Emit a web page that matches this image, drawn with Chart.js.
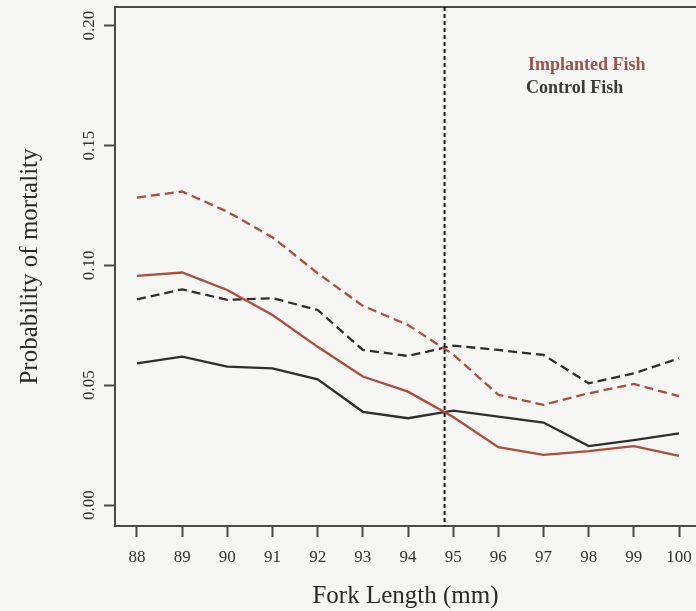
<!DOCTYPE html>
<html>
<head>
<meta charset="utf-8">
<title>Probability of mortality by fork length</title>
<script src="https://cdn.jsdelivr.net/npm/chart.js@4.4.1/dist/chart.umd.min.js"></script>
<style>
  html, body { margin: 0; padding: 0; background: #f6f6f4; }
  canvas { display: block; }
</style>
</head>
<body>
<canvas id="mortalityChart" width="696" height="611"></canvas>
<script>
// values
var forkLength = [88, 89, 90, 91, 92, 93, 94, 95, 96, 97, 98, 99, 100];
var implantedMean  = [0.0956, 0.0970, 0.0897, 0.0793, 0.0660, 0.0536, 0.0473, 0.0367, 0.0241, 0.0209, 0.0225, 0.0246, 0.0205];
var implantedUpper = [0.1283, 0.1308, 0.1224, 0.1117, 0.0967, 0.0831, 0.0751, 0.0628, 0.0460, 0.0418, 0.0466, 0.0505, 0.0454];
var controlMean    = [0.0591, 0.0619, 0.0577, 0.0570, 0.0524, 0.0389, 0.0362, 0.0394, 0.0369, 0.0344, 0.0246, 0.0271, 0.0299];
var controlUpper   = [0.0858, 0.0900, 0.0856, 0.0863, 0.0814, 0.0647, 0.0622, 0.0665, 0.0647, 0.0626, 0.0508, 0.0549, 0.0612];
var xTicks = [88, 89, 90, 91, 92, 93, 94, 95, 96, 97, 98, 99, 100];
var yTicks = [0, 0.05, 0.10, 0.15, 0.20];
var cutoffLength = 94.81;
var legendLabels = ['Implanted Fish', 'Control Fish'];

var RED = '#b04c3a';
var DARK = '#2e2e2e';
var AXIS = '#4a4a4a';
var SERIF = '"Liberation Serif", "Times New Roman", serif';

function points(values) {
  return forkLength.map(function (x, i) { return { x: x, y: values[i] }; });
}

function series(label, values, color, dashed) {
  return {
    label: label,
    data: points(values),
    borderColor: color,
    borderWidth: 2.3,
    borderDash: dashed ? [9, 5] : [],
    pointRadius: 0,
    tension: 0,
    fill: false
  };
}

// background, top frame line, cutoff line and the text legend
var framePlugin = {
  id: 'frame',
  beforeDraw: function (chart) {
    var ctx = chart.ctx;
    ctx.save();
    ctx.fillStyle = '#f6f6f4';
    ctx.fillRect(0, 0, chart.width, chart.height);
    ctx.restore();
  },
  afterDatasetsDraw: function (chart) {
    var ctx = chart.ctx, a = chart.chartArea;
    var cx = chart.scales.x.getPixelForValue(cutoffLength);
    ctx.save();
    ctx.strokeStyle = AXIS;
    ctx.lineWidth = 2;
    ctx.beginPath();
    ctx.moveTo(a.left, a.top);
    ctx.lineTo(a.right, a.top);
    ctx.stroke();
    ctx.strokeStyle = '#151515';
    ctx.setLineDash([4, 3]);
    ctx.beginPath();
    ctx.moveTo(cx, a.top);
    ctx.lineTo(cx, a.bottom);
    ctx.stroke();
    ctx.restore();
  },
  afterDraw: function (chart) {
    var ctx = chart.ctx, a = chart.chartArea;
    ctx.save();
    ctx.font = 'bold 18px ' + SERIF;
    ctx.textAlign = 'left';
    ctx.textBaseline = 'middle';
    ctx.fillStyle = '#9c5244';
    ctx.fillText(legendLabels[0], a.left + 413, a.top + 58);
    ctx.fillStyle = '#3a3a3a';
    ctx.fillText(legendLabels[1], a.left + 411, a.top + 81);
    ctx.restore();
  }
};

new Chart(document.getElementById('mortalityChart'), {
  type: 'line',
  data: {
    datasets: [
      series('Implanted Fish upper', implantedUpper, RED, true),
      series('Implanted Fish', implantedMean, RED, false),
      series('Control Fish upper', controlUpper, DARK, true),
      series('Control Fish', controlMean, DARK, false)
    ]
  },
  options: {
    responsive: false,
    animation: false,
    devicePixelRatio: 1,
    layout: { padding: { top: 7, right: 0, left: 0, bottom: 0 } },
    plugins: { legend: { display: false }, tooltip: { enabled: false } },
    scales: {
      x: {
        type: 'linear',
        min: 87.513,
        max: 100.376,
        afterBuildTicks: function (s) { s.ticks = xTicks.map(function (v) { return { value: v }; }); },
        afterFit: function (s) { s.height = 85; s.paddingLeft = 0; s.paddingRight = 0; },
        ticks: {
          color: '#333',
          padding: 10,
          maxRotation: 0,
          font: { family: SERIF, size: 17 },
          callback: function (v) { return String(v); }
        },
        grid: { drawOnChartArea: false, drawTicks: true, tickLength: 11, tickWidth: 2, color: AXIS },
        border: { display: true, color: AXIS, width: 2 },
        title: {
          display: true,
          text: 'Fork Length (mm)',
          color: '#2a2a2a',
          font: { family: SERIF, size: 25 },
          padding: { top: 0, bottom: 0 }
        }
      },
      y: {
        type: 'linear',
        min: -0.00876,
        max: 0.2078,
        afterBuildTicks: function (s) { s.ticks = yTicks.map(function (v) { return { value: v }; }); },
        afterFit: function (s) { s.width = 115; s.paddingTop = 0; s.paddingBottom = 0; },
        ticks: {
          color: '#333',
          padding: 0,
          minRotation: 90,
          maxRotation: 90,
          crossAlign: 'center',
          font: { family: SERIF, size: 17 },
          callback: function (v) { return v.toFixed(2); }
        },
        grid: { drawOnChartArea: false, drawTicks: true, tickLength: 11, tickWidth: 2, color: AXIS },
        border: { display: true, color: AXIS, width: 2 },
        title: {
          display: true,
          text: 'Probability of mortality',
          color: '#2a2a2a',
          font: { family: SERIF, size: 25 },
          padding: { top: 15, bottom: 0 }
        }
      }
    }
  },
  plugins: [framePlugin]
});
</script>
</body>
</html>
